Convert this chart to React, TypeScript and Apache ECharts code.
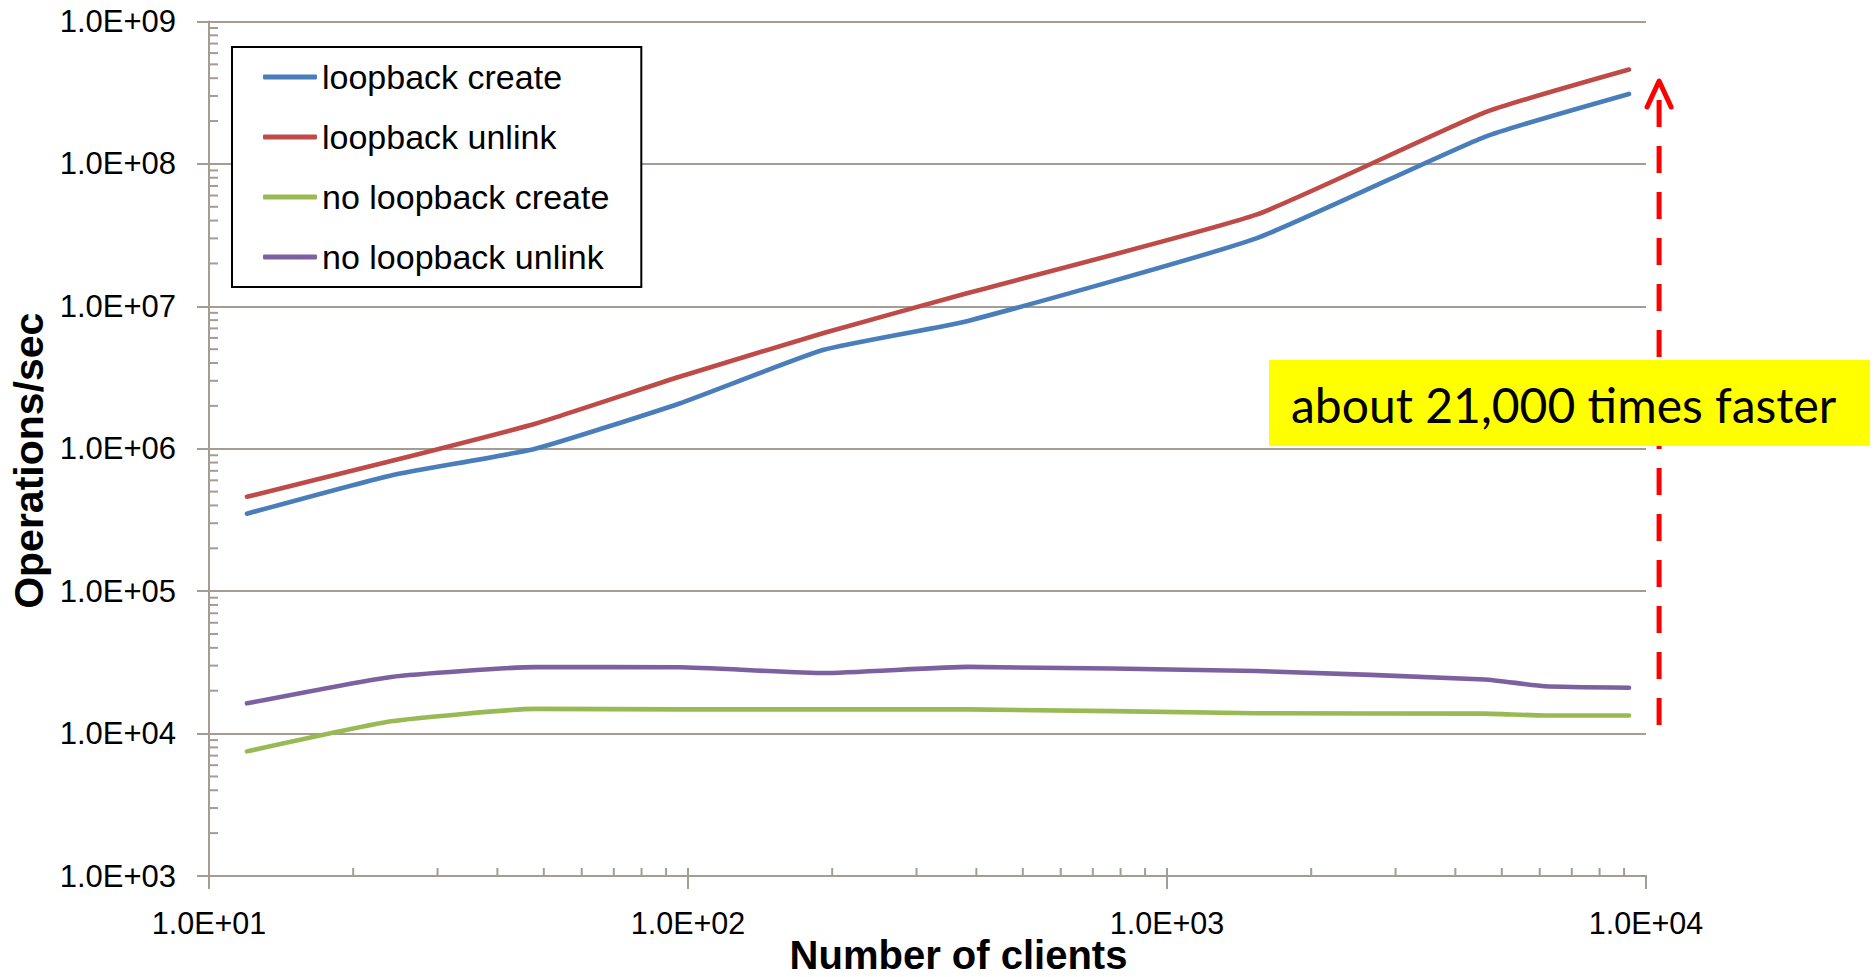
import { useEffect, useRef } from "react";
import * as echarts from "echarts";

// Client counts at which each pair of runs was measured
const clientsLoopback = [12, 24, 48, 96, 192, 384, 1536, 4608, 9216];
const clientsNoLoopback = [12, 24, 48, 96, 192, 384, 1536, 4608, 6144, 9216];

// Throughput in operations per second
const loopbackCreate = [3.5e5, 6.5e5, 1.0e6, 2.08e6, 4.95e6, 7.9e6, 3.0e7, 1.55e8, 3.1e8];
const loopbackUnlink = [4.6e5, 8.2e5, 1.5e6, 3.2e6, 6.5e6, 1.24e7, 4.4e7, 2.3e8, 4.6e8];
const noLoopbackCreate = [7.5e3, 1.22e4, 1.49e4, 1.48e4, 1.48e4, 1.48e4, 1.39e4, 1.38e4, 1.34e4, 1.34e4];
const noLoopbackUnlink = [1.63e4, 2.5e4, 2.93e4, 2.92e4, 2.66e4, 2.94e4, 2.75e4, 2.4e4, 2.15e4, 2.1e4];

const seriesNames = ["loopback create", "loopback unlink", "no loopback create", "no loopback unlink"];
const seriesColors = ["#4A7EBB", "#BE4B48", "#98B954", "#7D60A0"];

// Axis ranges (log10 decades) and the mantissas that get minor ticks
const xRange = [10, 10000];
const yRange = [1e3, 1e9];
const xDecades = [10, 100, 1000];
const yDecades = [1e3, 1e4, 1e5, 1e6, 1e7, 1e8];
const minorMultiples = [2, 3, 4, 5, 6, 7, 8, 9];

// Speed-up arrow: x position, from (bottom) and to (top) throughput
const arrowX = 10650;
const arrowFrom = 1.15e4;
const arrowTo = 3.82e8;
const arrowLabel = "about 21,000 times faster";

const AXIS_COLOR = "#A39D94";
const ARIAL = "'Liberation Sans', Arial, sans-serif";

function sci(v: number): string {
  const e = Math.round(Math.log10(v));
  return "1.0E+" + String(e).padStart(2, "0");
}

function buildOption() {
  const xMinor: number[][] = [];
  xDecades.forEach((d) => minorMultiples.forEach((m) => xMinor.push([d * m, yRange[0]])));
  // inner half of the major x ticks
  [100, 1000].forEach((v) => xMinor.push([v, yRange[0]]));
  const yMinor: number[][] = [];
  yDecades.forEach((d) => minorMultiples.forEach((m) => yMinor.push([xRange[0], d * m])));

  const lineSeries = [
    [clientsLoopback, loopbackCreate],
    [clientsLoopback, loopbackUnlink],
    [clientsNoLoopback, noLoopbackCreate],
    [clientsNoLoopback, noLoopbackUnlink],
  ].map(([xs, ys], i) => ({
    name: seriesNames[i],
    type: "line",
    data: xs.map((x, j) => [x, ys[j]]),
    showSymbol: false,
    symbol: "none",
    smooth: 0.15,
    color: seriesColors[i],
    lineStyle: { width: 4.6, color: seriesColors[i], cap: "round", join: "round" },
    z: 4,
  }));

  return {
    animation: false,
    backgroundColor: "#ffffff",
    grid: {
      left: 209,
      right: 228,
      top: 21.5,
      bottom: 101,
      containLabel: false,
      outerBoundsMode: "none",
    },
    legend: {
      data: seriesNames,
      orient: "vertical",
      left: 232,
      top: 47,
      padding: [13, 32, 13, 31],
      itemGap: 26,
      itemWidth: 54,
      itemHeight: 5,
      icon: "roundRect",
      selectedMode: false,
      borderColor: "#000",
      borderWidth: 2,
      backgroundColor: "#fff",
      textStyle: { fontFamily: ARIAL, fontSize: 34, lineHeight: 34, color: "#000" },
      z: 10,
    },
    xAxis: {
      type: "log",
      logBase: 10,
      min: xRange[0],
      max: xRange[1],
      name: "Number of clients",
      nameLocation: "middle",
      nameGap: 59,
      nameMoveOverlap: false,
      nameTextStyle: {
        fontFamily: ARIAL,
        fontWeight: "bold",
        fontSize: 40,
        color: "#000",
        padding: [0, 0, 0, 62],
      },
      axisLine: { show: true, lineStyle: { color: AXIS_COLOR, width: 2 } },
      axisTick: { show: true, inside: false, length: 13, lineStyle: { color: AXIS_COLOR, width: 2 } },
      axisLabel: { formatter: sci, fontFamily: ARIAL, fontSize: 30.5, color: "#000", margin: 31 },
      splitLine: { show: false },
      minorTick: { show: false },
    },
    yAxis: {
      type: "log",
      logBase: 10,
      min: yRange[0],
      max: yRange[1],
      name: "Operations/sec",
      nameLocation: "middle",
      nameGap: 160,
      nameMoveOverlap: false,
      nameTextStyle: {
        fontFamily: ARIAL,
        fontWeight: "bold",
        fontSize: 41,
        color: "#000",
        padding: [0, 24, 0, 0],
      },
      axisLine: { show: true, lineStyle: { color: AXIS_COLOR, width: 2 } },
      axisTick: { show: true, inside: false, length: 12, lineStyle: { color: AXIS_COLOR, width: 2 } },
      axisLabel: { formatter: sci, fontFamily: ARIAL, fontSize: 31, color: "#000", margin: 33 },
      splitLine: { show: true, lineStyle: { color: AXIS_COLOR, width: 2 } },
      minorTick: { show: false },
    },
    series: [
      ...lineSeries,
      {
        name: "x minor ticks",
        type: "custom",
        silent: true,
        clip: false,
        z: 3,
        data: xMinor,
        renderItem: (_p: any, api: any) => {
          const p = api.coord([api.value(0), api.value(1)]);
          return {
            type: "line",
            shape: { x1: p[0], y1: p[1], x2: p[0], y2: p[1] - 8 },
            style: { stroke: AXIS_COLOR, lineWidth: 2 },
          };
        },
      },
      {
        name: "y minor ticks",
        type: "custom",
        silent: true,
        clip: false,
        z: 3,
        data: yMinor,
        renderItem: (_p: any, api: any) => {
          const p = api.coord([api.value(0), api.value(1)]);
          return {
            type: "line",
            shape: { x1: p[0], y1: p[1], x2: p[0] + 9, y2: p[1] },
            style: { stroke: AXIS_COLOR, lineWidth: 2 },
          };
        },
      },
      {
        name: "speed-up arrow",
        type: "custom",
        silent: true,
        clip: false,
        z: 5,
        data: [[arrowX, arrowFrom, arrowTo]],
        encode: { x: 0, y: [1, 2] },
        renderItem: (_p: any, api: any) => {
          const bottom = api.coord([api.value(0), api.value(1)]);
          const tip = api.coord([api.value(0), api.value(2)]);
          return {
            type: "group",
            children: [
              {
                type: "line",
                shape: { x1: tip[0], y1: tip[1] + 19, x2: bottom[0], y2: bottom[1] },
                style: { stroke: "#FF0000", lineWidth: 5, lineDash: [27, 19] },
              },
              {
                type: "polyline",
                shape: {
                  points: [
                    [tip[0] - 12, tip[1] + 26],
                    [tip[0], tip[1]],
                    [tip[0] + 12, tip[1] + 26],
                  ],
                },
                style: { stroke: "#FF0000", lineWidth: 5, fill: "none", lineCap: "round", lineJoin: "round" },
              },
            ],
          };
        },
      },
    ],
    graphic: [
      {
        type: "rect",
        z: 100,
        shape: { x: 1269, y: 360, width: 601, height: 86 },
        style: { fill: "#FFFF00" },
      },
      {
        type: "text",
        z: 101,
        x: 1291,
        y: 404,
        style: {
          text: arrowLabel,
          fontFamily: "Lato, 'Open Sans', sans-serif",
          fontSize: 48,
          fill: "#000",
          verticalAlign: "middle",
          align: "left",
        },
      },
    ],
  };
}

export default function App() {
  const ref = useRef<HTMLDivElement>(null);
  useEffect(() => {
    if (!ref.current) return;
    const chart = echarts.init(ref.current, null, { renderer: "svg" });
    chart.setOption(buildOption() as any);
    return () => chart.dispose();
  }, []);
  return (
    <div
      ref={ref}
      style={{ position: "absolute", left: 0, top: 0, width: 1874, height: 977, background: "#fff" }}
    />
  );
}
